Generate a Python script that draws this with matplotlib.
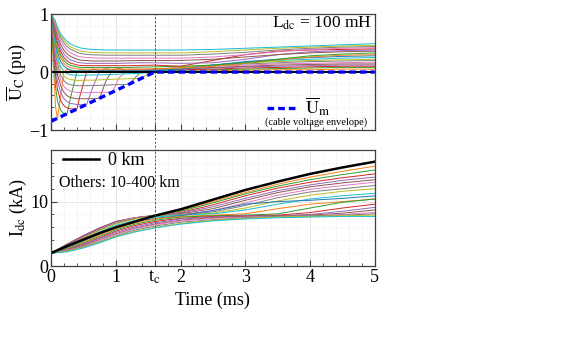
"""
DC fault transient: cable voltage and DC current for different cable lengths.
"""

import matplotlib
matplotlib.use("Agg")
import matplotlib.pyplot as plt
from matplotlib.ticker import MultipleLocator

plt.rcParams.update({
    "font.family": ["Liberation Serif", "DejaVu Serif"],
    "mathtext.fontset": "stix",
    "font.size": 13,
    "axes.linewidth": 0.9,
    "axes.edgecolor": "0.25",
})

T_C = 1.6

# ---- top panel: cable voltage (pu), 19 cable lengths (short -> long) ----
t_uc = [0, 0.03, 0.07, 0.1, 0.15, 0.2, 0.25, 0.3, 0.4, 0.45, 0.55, 0.65, 0.75,
        0.85, 0.95, 1.05, 1.2, 1.4, 1.6, 2.0, 2.5, 3.0, 3.5, 4.0, 4.5, 5.0]

uc_others = [
    [1, 0.3, -0.6, -0.8, -0.4, 0.0, 0.05, 0.03, 0.0, -0.01, 0.0, 0.01, 0.0, -0.01, 0.0, 0.01, 0.0, 0.0,
     0.0, 0.01, 0.02, 0.03, 0.04, 0.04, 0.05, 0.05],
    [1, 0.45, -0.25, -0.5, -0.66, -0.72, -0.717, -0.45, 0.0, 0.04, 0.02, 0.0, 0.02, 0.03, 0.02, 0.01, 0.02, 0.02,
     0.02, 0.03, 0.04, 0.05, 0.06, 0.07, 0.08, 0.08],
    [1, 0.55, -0.05, -0.3, -0.5, -0.58, -0.62, -0.635, -0.638, -0.4, 0.0, 0.05, 0.03, 0.0, 0.02, 0.03, 0.02, 0.02,
     0.03, 0.04, 0.05, 0.07, 0.08, 0.09, 0.1, 0.1],
    [1, 0.6, 0.08, -0.15, -0.36, -0.46, -0.51, -0.54, -0.56, -0.565, -0.558, -0.25, 0.02, 0.06, 0.03, 0.01, 0.03, 0.03,
     0.03, 0.05, 0.07, 0.09, 0.1, 0.11, 0.12, 0.12],
    [1, 0.65, 0.18, -0.04, -0.24, -0.35, -0.41, -0.44, -0.46, -0.46, -0.46, -0.46, -0.452, -0.15, 0.04, 0.06, 0.03, 0.04,
     0.04, 0.06, 0.08, 0.1, 0.12, 0.13, 0.14, 0.14],
    [1, 0.68, 0.26, 0.06, -0.14, -0.25, -0.3, -0.33, -0.35, -0.355, -0.355, -0.352, -0.35, -0.348, -0.345, -0.1, 0.05, 0.05,
     0.04, 0.07, 0.1, 0.12, 0.14, 0.15, 0.16, 0.17],
    [1, 0.71, 0.33, 0.14, -0.06, -0.15, -0.2, -0.22, -0.235, -0.235, -0.235, -0.233, -0.23, -0.225, -0.22, -0.215, -0.2125, 0.02,
     0.05, 0.08, 0.11, 0.14, 0.16, 0.18, 0.19, 0.2],
    [1, 0.74, 0.39, 0.21, 0.02, -0.07, -0.11, -0.13, -0.145, -0.145, -0.14, -0.14, -0.135, -0.13, -0.125, -0.12, -0.115, -0.106,
     0.03, 0.08, 0.12, 0.16, 0.18, 0.2, 0.21, 0.22],
    [1, 0.77, 0.44, 0.27, 0.09, 0.01, -0.03, -0.045, -0.055, -0.055, -0.055, -0.05, -0.05, -0.045, -0.04, -0.035, -0.03, -0.02,
     0.0, 0.06, 0.12, 0.17, 0.2, 0.22, 0.24, 0.25],
    [1, 0.8, 0.5, 0.34, 0.18, 0.1, 0.06, 0.035, 0.02, 0.02, 0.02, 0.02, 0.02, 0.02, 0.02, 0.02, 0.02, 0.02,
     0.03, 0.05, 0.12, 0.18, 0.22, 0.25, 0.27, 0.28],
    [1, 0.82, 0.55, 0.4, 0.24, 0.15, 0.1, 0.075, 0.055, 0.05, 0.05, 0.05, 0.05, 0.05, 0.05, 0.05, 0.05, 0.05,
     0.06, 0.07, 0.1, 0.15, 0.21, 0.26, 0.29, 0.3],
    [1, 0.84, 0.59, 0.448, 0.292, 0.2, 0.144, 0.117, 0.089, 0.08, 0.08, 0.08, 0.08, 0.08, 0.08, 0.08, 0.08, 0.085,
     0.09, 0.1, 0.12, 0.16, 0.22, 0.28, 0.31, 0.33],
    [1, 0.86, 0.644, 0.51, 0.35, 0.252, 0.19, 0.155, 0.123, 0.114, 0.11, 0.11, 0.11, 0.11, 0.11, 0.11, 0.11, 0.115,
     0.12, 0.1, 0.2, 0.3, 0.36, 0.38, 0.39, 0.4],
    [1, 0.88, 0.694, 0.567, 0.414, 0.312, 0.252, 0.21, 0.171, 0.159, 0.15, 0.15, 0.15, 0.15, 0.15, 0.15, 0.155, 0.16,
     0.16, 0.15, 0.16, 0.22, 0.3, 0.35, 0.37, 0.38],
    [1, 0.895, 0.741, 0.619, 0.474, 0.376, 0.312, 0.271, 0.222, 0.206, 0.198, 0.19, 0.19, 0.19, 0.19, 0.19, 0.195, 0.2,
     0.2, 0.2, 0.22, 0.26, 0.3, 0.33, 0.35, 0.36],
    [1, 0.916, 0.787, 0.673, 0.536, 0.445, 0.377, 0.331, 0.278, 0.263, 0.251, 0.244, 0.24, 0.24, 0.24, 0.24, 0.24, 0.24,
     0.24, 0.24, 0.26, 0.3, 0.35, 0.39, 0.41, 0.42],
    [1, 0.929, 0.823, 0.716, 0.588, 0.503, 0.439, 0.397, 0.34, 0.322, 0.304, 0.297, 0.294, 0.29, 0.29, 0.29, 0.29, 0.29,
     0.29, 0.29, 0.31, 0.34, 0.38, 0.41, 0.43, 0.44],
    [1, 0.946, 0.853, 0.745, 0.625, 0.544, 0.484, 0.437, 0.384, 0.364, 0.347, 0.338, 0.334, 0.33, 0.33, 0.33, 0.33, 0.33,
     0.33, 0.33, 0.35, 0.38, 0.41, 0.43, 0.45, 0.46],
    [1, 0.957, 0.876, 0.771, 0.659, 0.585, 0.529, 0.485, 0.436, 0.417, 0.399, 0.389, 0.386, 0.38, 0.38, 0.38, 0.38, 0.38,
     0.38, 0.38, 0.39, 0.41, 0.43, 0.45, 0.47, 0.49],
]

uc_0km = [0.0, 0.0]
t_0km = [0.0, 5.0]

# cable voltage envelope
t_env = [0.0, T_C, 5.0]
u_env = [-0.85, 0.0, 0.0]

# ---- bottom panel: DC current (kA) ----
t_idc = [0, 0.25, 0.5, 0.75, 1.0, 1.3, 1.6, 2.0, 2.5, 3.0, 3.5, 4.0, 4.5, 5.0]
idc_0km = [2.0, 3.1, 4.1, 5.1, 6.0, 6.9, 7.8, 8.8, 10.3, 11.8, 13.1, 14.3, 15.3, 16.2]
idc_others = [
    [2.0, 3.3, 4.6, 5.8, 6.7, 7.4, 7.9, 8.6, 10.0, 11.4, 12.7, 13.8, 14.7, 15.5],
    [2.0, 3.4, 4.7, 5.9, 6.8, 7.5, 7.9, 8.5, 9.8, 11.2, 12.4, 13.4, 14.2, 14.9],
    [2.0, 3.4, 4.7, 5.9, 6.9, 7.5, 7.8, 8.3, 9.5, 10.9, 12.1, 13.0, 13.7, 14.3],
    [2.0, 3.3, 4.7, 5.9, 6.9, 7.5, 7.8, 8.2, 9.2, 10.5, 11.7, 12.6, 13.3, 13.8],
    [2.0, 3.3, 4.6, 5.8, 6.9, 7.5, 7.8, 8.1, 8.9, 10.2, 11.4, 12.3, 12.9, 13.4],
    [2.0, 3.2, 4.5, 5.7, 6.8, 7.5, 7.8, 8.0, 8.6, 9.8, 11.0, 11.9, 12.5, 13.0],
    [2.0, 3.1, 4.4, 5.6, 6.7, 7.4, 7.8, 8.0, 8.4, 9.4, 10.6, 11.5, 12.0, 12.5],
    [2.0, 3.0, 4.3, 5.5, 6.5, 7.3, 7.7, 7.9, 8.2, 9.0, 10.1, 11.0, 11.6, 12.0],
    [2.0, 2.9, 4.1, 5.3, 6.3, 7.1, 7.6, 7.9, 8.1, 8.7, 9.6, 10.4, 10.9, 11.3],
    [2.0, 2.8, 3.9, 5.0, 6.0, 6.9, 7.4, 7.8, 8.6, 9.6, 10.0, 10.2, 10.5, 10.9],
    [2.0, 2.7, 3.7, 4.8, 5.8, 6.7, 7.3, 7.7, 7.9, 8.1, 8.9, 9.6, 10.0, 10.4],
    [2.0, 2.6, 3.6, 4.6, 5.6, 6.5, 7.1, 7.6, 7.8, 7.9, 8.1, 9.0, 9.9, 10.4],
    [2.0, 2.5, 3.4, 4.4, 5.4, 6.3, 6.9, 7.4, 7.7, 7.8, 7.9, 8.3, 9.0, 9.6],
    [2.0, 2.5, 3.3, 4.3, 5.2, 6.1, 6.7, 7.3, 7.6, 7.8, 7.8, 8.0, 8.5, 9.1],
    [2.0, 2.4, 3.2, 4.1, 5.0, 5.9, 6.5, 7.1, 7.5, 7.7, 7.8, 7.9, 8.2, 8.7],
    [2.0, 2.4, 3.1, 4.0, 4.9, 5.8, 6.4, 7.0, 7.4, 7.6, 7.7, 7.8, 8.0, 8.3],
    [2.0, 2.3, 3.0, 3.8, 4.7, 5.6, 6.2, 6.8, 7.2, 7.5, 7.7, 7.8, 7.9, 8.1],
    [2.0, 2.3, 2.9, 3.7, 4.6, 5.4, 6.0, 6.6, 7.1, 7.4, 7.6, 7.7, 7.8, 7.9],
    [2.0, 2.2, 2.8, 3.6, 4.5, 5.3, 5.9, 6.5, 7.0, 7.3, 7.5, 7.6, 7.7, 7.7],
]

x_ticks = [0, 1, T_C, 2, 3, 4, 5]
x_ticklabels = ["0", "1", r"t$_\mathrm{c}$", "2", "3", "4", "5"]

fig = plt.figure(figsize=(5.68, 3.40), dpi=100)
ax1 = fig.add_axes([0.0898, 0.6176, 0.570, 0.341])
ax2 = fig.add_axes([0.0898, 0.2176, 0.570, 0.341])

for ax in (ax1, ax2):
    ax.set_xlim(0, 5)
    ax.set_xticks(x_ticks)
    ax.xaxis.set_minor_locator(MultipleLocator(0.2))
    ax.tick_params(which="both", direction="in", top=False, right=False,
                   colors="0.25", labelcolor="black")
    ax.tick_params(which="major", length=4, labelsize=13, pad=2)
    ax.tick_params(which="minor", length=2)
    ax.grid(which="major", color="0.9", linewidth=0.7)
    ax.grid(which="minor", color="0.9", linewidth=0.6, linestyle=":")
    ax.set_axisbelow(True)

# top panel
for k, row in enumerate(uc_others, start=1):
    ax1.plot(t_uc, row, color=f"C{k % 10}", linewidth=0.7)
ax1.plot(t_0km, uc_0km, color="black", linewidth=1.4)
env_line, = ax1.plot(t_env, u_env, color="#0000ff", linewidth=2.4,
                     linestyle=(0, (2.0, 1.2)), label=r"$\overline{\mathrm{U}}_\mathrm{m}$")
ax1.axvline(T_C, ymin=-0.18, ymax=1, color="#404088", linewidth=0.7,
            linestyle=(0, (2, 2)), clip_on=False, zorder=5)
ax1.set_ylim(-1, 1)
ax1.set_yticks([-1, 0, 1])
ax1.yaxis.set_minor_locator(MultipleLocator(0.2))
ax1.set_xticklabels([])
ax1.set_ylabel(r"$\overline{\mathrm{U}}_\mathrm{C}$ (pu)", fontsize=13, labelpad=1)
ax1.text(0.99, 0.92, r"L$_\mathrm{dc}$ = 100 mH", transform=ax1.transAxes,
         ha="right", va="center", fontsize=12.5)
ax1.legend(handles=[env_line], loc="center left", bbox_to_anchor=(0.64, 0.2),
           frameon=False, handlelength=1.6, handletextpad=0.5, borderpad=0,
           fontsize=13)
ax1.text(0.82, 0.07, "(cable voltage envelope)", transform=ax1.transAxes,
         ha="center", va="center", fontsize=7.5)

# bottom panel
for k, row in enumerate(idc_others, start=1):
    ax2.plot(t_idc, row, color=f"C{k % 10}", linewidth=0.7)
zero_line, = ax2.plot(t_idc, idc_0km, color="black", linewidth=1.8, label="0 km")
ax2.axvline(T_C, color="#404088", linewidth=0.7, linestyle=(0, (2, 2)), zorder=5)
ax2.set_ylim(0, 18)
ax2.set_yticks([0, 10])
ax2.yaxis.set_minor_locator(MultipleLocator(2))
ax2.set_xticklabels(x_ticklabels)
ax2.set_xlabel("Time (ms)", fontsize=13, labelpad=4)
ax2.set_ylabel(r"I$_\mathrm{dc}$ (kA)", fontsize=13, labelpad=1)
ax2.legend(handles=[zero_line], loc="center left", bbox_to_anchor=(0.01, 0.91),
           frameon=False, handlelength=2.0, handletextpad=0.5, borderpad=0,
           fontsize=13)
ax2.text(0.025, 0.72, "Others: 10-400 km", transform=ax2.transAxes,
         ha="left", va="center", fontsize=11.5)

fig.savefig("out.png", dpi=100)
